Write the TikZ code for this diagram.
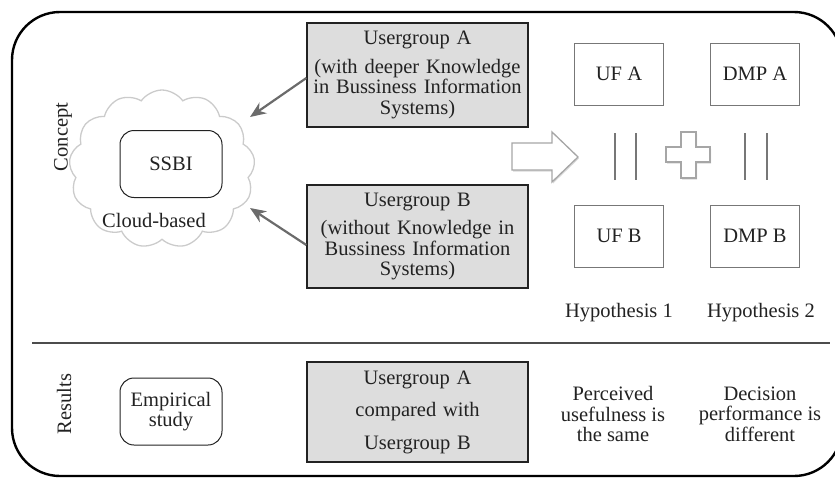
\documentclass[tikz,border=0pt]{standalone}
\usepackage{fontspec}
\setmainfont{Liberation Serif}
\usetikzlibrary{arrows.meta,shapes.symbols,shadows}

\definecolor{boxgray}{HTML}{DDDDDD}
\definecolor{linegray}{HTML}{777777}
\definecolor{cloudgray}{HTML}{CBCBCB}
\definecolor{arrowgray}{HTML}{6B6B6B}
\definecolor{inkgray}{HTML}{222222}

\tikzset{
    groupbox/.style={draw=inkgray, line width=1.3pt, fill=boxgray, text width=221pt,
        align=center, minimum width=221pt, inner sep=0pt},
    factorbox/.style={draw=linegray, line width=1pt, minimum width=89pt, minimum height=62pt},
    roundbox/.style={draw=inkgray, line width=1pt, rounded corners=14pt,
        minimum width=102pt, minimum height=67pt, align=center},
    plain/.style={align=center, inner sep=0pt},
    bar/.style={draw=linegray, line width=2pt}
}

\begin{document}
\begin{tikzpicture}[x=1pt, y=-1pt, >={Stealth[length=16pt,width=13pt]}, thick,
    font=\fontsize{20.5}{20.5}\selectfont, text=inkgray]

    \useasboundingbox (0,0) rectangle (835,477);

    % --- Frame ---
    \draw[line width=2.4pt, rounded corners=48pt] (12,12) rectangle (842,476);
    \draw[line width=1.4pt, draw=black!70] (32,343) -- (830,343);

    % --- Section labels ---
    \node[plain, rotate=90] (concept) at (63,137) {Concept};
    \node[plain, rotate=90] (results) at (64,404) {Results};

    % --- Cloud with SSBI ---
    \node[cloud, draw=cloudgray, line width=1.3pt, cloud puffs=13, cloud puff arc=110,
        cloud ignores aspect, minimum width=186, minimum height=158] (cloud) at (162,169) {};
    \node[roundbox] (ssbi) at (171,164) {SSBI};
    \node[plain] (cloudbased) at (154,220) {Cloud-based};
    \coordinate (cloudA) at (250,117);
    \coordinate (cloudB) at (250,208);

    % --- User groups ---
    \node[groupbox, minimum height=104pt] (uga) at (417.5,75)
        {Usergroup A\\[8pt](with deeper Knowledge\\ in Bussiness Information\\ Systems)};
    \node[groupbox, minimum height=103pt] (ugb) at (417.5,236.5)
        {Usergroup B\\[8pt](without Knowledge in\\ Bussiness Information\\ Systems)};

    \draw[->, arrowgray, line width=2.2pt] (uga.west |- 0,78) -- (cloudA);
    \draw[->, arrowgray, line width=2.2pt] (ugb.west |- 0,245) -- (cloudB);

    % --- Hollow arrow and plus ---
    \draw[draw=black!35, line width=1.3pt, fill=white,
        drop shadow={opacity=0.3, shadow xshift=1pt, shadow yshift=-1.5pt}]
        (512,143) -- (552,143) -- (552,132) -- (578,157) -- (552,182)
        -- (552,170) -- (512,170) -- cycle;
    \draw[draw=black!35, line width=1.3pt, fill=white,
        drop shadow={opacity=0.3, shadow xshift=1pt, shadow yshift=-1.5pt}]
        (681,132) -- (696,132) -- (696,147) -- (710,147) -- (710,162) -- (696,162)
        -- (696,178) -- (681,178) -- (681,162) -- (666,162) -- (666,147) -- (681,147) -- cycle;

    % --- Equality bars ---
    \foreach \bx in {615,636,745,767}
        \draw[bar] (\bx,133) -- (\bx,180);

    % --- Factors ---
    \node[factorbox] (ufa) at (619,74) {UF A};
    \node[factorbox] (dmpa) at (755,74) {DMP A};
    \node[factorbox] (ufb) at (619,236) {UF B};
    \node[factorbox] (dmpb) at (755,236) {DMP B};

    \node[plain] (hypa) at (619,313) {Hypothesis 1};
    \node[plain] (hypb) at (761,313) {Hypothesis 2};

    % --- Results row ---
    \node[roundbox] (empirical) at (171,411.5) {Empirical\\ study};
    \node[groupbox, minimum height=100pt] (compare) at (417.5,412)
        {Usergroup A\\[12pt] compared with\\[12pt] Usergroup B};
    \node[plain] (perceived) at (613,414) {Perceived\\ usefulness is\\ the same};
    \node[plain] (decision) at (760,414) {Decision\\ performance is\\ different};

\end{tikzpicture}
\end{document}
